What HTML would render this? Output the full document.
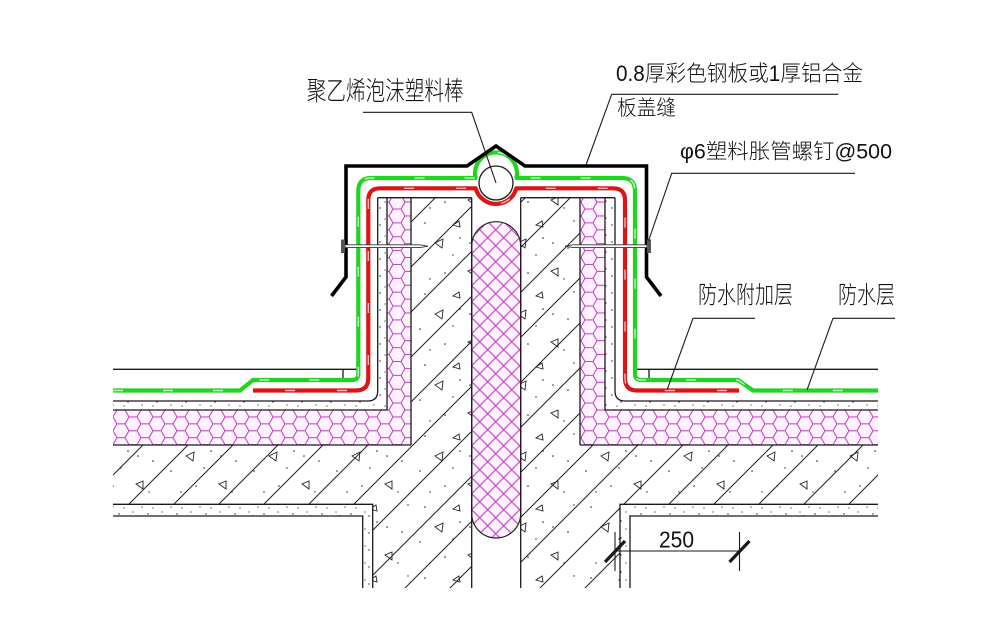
<!DOCTYPE html>
<html><head><meta charset="utf-8"><style>
html,body{margin:0;padding:0;background:#fff;}
svg{display:block;}
text{font-family:"Liberation Sans","Noto Sans CJK SC",sans-serif;fill:#111;font-weight:300;}
</style></head><body>
<svg width="981" height="628" viewBox="0 0 981 628" xmlns="http://www.w3.org/2000/svg">
<defs>
<pattern id="hatch" patternUnits="userSpaceOnUse" width="45" height="45" x="3" y="0">
<path d="M0,45 L45,0 M-5,5 L5,-5 M40,50 L50,40" stroke="#222" stroke-width="1" fill="none"/>
</pattern>
<pattern id="agg" patternUnits="userSpaceOnUse" width="83" height="71">
<path d="M20,30 l8,-4 l-1,9 z M60,55 l-7,3 l7,5 z M44,8 l-6,4 l7,2 z" fill="none" stroke="#222" stroke-width="0.9"/>
<g fill="#222"><circle cx="10" cy="10" r="0.8"/><circle cx="45" cy="25" r="0.8"/><circle cx="70" cy="35" r="0.8"/><circle cx="30" cy="60" r="0.8"/><circle cx="5" cy="45" r="0.8"/><circle cx="55" cy="30" r="0.8"/><circle cx="38" cy="42" r="0.7"/><circle cx="76" cy="8" r="0.7"/><circle cx="15" cy="66" r="0.7"/><circle cx="66" cy="66" r="0.7"/></g>
</pattern>
<pattern id="mor" patternUnits="userSpaceOnUse" width="29" height="17">
<g fill="#222"><circle cx="3" cy="4" r="0.7"/><circle cx="12" cy="11" r="0.7"/><circle cx="21" cy="6" r="0.7"/><circle cx="26" cy="14" r="0.6"/><circle cx="8" cy="15" r="0.6"/><circle cx="17" cy="2" r="0.6"/></g>
</pattern>
<pattern id="hex" patternUnits="userSpaceOnUse" width="24" height="13.86" x="113" y="410">
<rect width="24" height="13.86" fill="#fdf2fd"/>
<path d="M0,6.93 L4,0 L12,0 L16,6.93 L12,13.86 L4,13.86 Z M16,6.93 L24,6.93" fill="none" stroke="#c23ac2" stroke-width="1"/>
</pattern>
<pattern id="xh" patternUnits="userSpaceOnUse" width="16" height="16" x="471.7" y="221.7">
<rect width="16" height="16" fill="#fdf3fd"/>
<path d="M0,0 L16,16 M16,0 L0,16" stroke="#b536b5" stroke-width="1" fill="none"/>
</pattern>
</defs>
<rect width="981" height="628" fill="#fff"/>

<!-- concrete -->
<path d="M411,197.7 L471.7,197.7 L471.7,588 L372.7,588 L372.7,504.3 L113,504.3 L113,445 L411,445 Z" fill="url(#hatch)"/>
<path d="M411,197.7 L471.7,197.7 L471.7,588 L372.7,588 L372.7,504.3 L113,504.3 L113,445 L411,445 Z" fill="url(#agg)"/>
<path d="M520.7,197.7 L580,197.7 L580,445 L878,445 L878,504.3 L620,504.3 L620,588 L520.7,588 Z" fill="url(#hatch)"/>
<path d="M520.7,197.7 L580,197.7 L580,445 L878,445 L878,504.3 L620,504.3 L620,588 L520.7,588 Z" fill="url(#agg)"/>

<!-- mortar / plaster -->
<path d="M377.7,197.7 L387,197.7 L387,410 L113,410 L113,401 L367.7,401 Q377.7,401 377.7,391 Z" fill="url(#mor)"/>
<path d="M615,197.7 L605,197.7 L605,410 L878,410 L878,401 L625,401 Q615,401 615,391 Z" fill="url(#mor)"/>
<path d="M113,504.3 L372.7,504.3 L372.7,588 L362.7,588 L362.7,516 L113,516 Z" fill="url(#mor)"/>
<path d="M620,504.3 L878,504.3 L878,516 L630,516 L630,588 L620,588 Z" fill="url(#mor)"/>

<!-- insulation hex -->
<path d="M387,197.7 L411,197.7 L411,445 L113,445 L113,410 L387,410 Z" fill="url(#hex)"/>
<path d="M580,197.7 L605,197.7 L605,410 L878,410 L878,445 L580,445 Z" fill="url(#hex)"/>

<!-- foam rod -->
<rect x="471.7" y="221.7" width="49" height="316.3" rx="24.5" ry="24.5" fill="url(#xh)" stroke="#222" stroke-width="1.2"/>

<!-- outlines -->
<g fill="none" stroke="#1a1a1a" stroke-width="1.3">
<path d="M411,197.7 L411,445 M471.7,197.7 L471.7,588 M520.7,197.7 L520.7,588 M580,197.7 L580,445"/>
<path d="M377.7,197.7 L471.7,197.7 M520.7,197.7 L615,197.7"/>
<path d="M113,410 L387,410 L387,197.7 M878,410 L605,410 L605,197.7"/>
<path d="M113,445 L411,445 M580,445 L878,445"/>
<path d="M377.7,197.7 L377.7,391 Q377.7,401 367.7,401 L113,401"/>
<path d="M615,197.7 L615,391 Q615,401 625,401 L878,401"/>
<path d="M113,504.3 L372.7,504.3 L372.7,588 M113,516 L362.7,516 L362.7,588"/>
<path d="M878,504.3 L620,504.3 L620,588 M878,516 L630,516 L630,588"/>
<path d="M113,369.3 L358.3,369.3 M343,369.3 L343,380 M635,369.3 L878,369.3 M649,369.3 L649,380"/>
</g>

<!-- green waterproof layer -->
<path d="M113,390.5 L240,390.5 L253,380 L352,380 Q358.3,380 358.3,374 L358.3,191 Q358.3,178 371,178 L475.5,178 A21,21 0 1 1 516.5,178 L622,178 Q635,178 635,191 L635,374 Q635,380 641,380 L738,380 L753,390.5 L878,390.5" fill="none" stroke="#1fd51f" stroke-width="4.2" stroke-linejoin="round"/>
<path d="M113,390.5 L240,390.5 L253,380 L352,380 Q358.3,380 358.3,374 L358.3,191 Q358.3,178 371,178 L475.5,178 A21,21 0 1 1 516.5,178 L622,178 Q635,178 635,191 L635,374 Q635,380 641,380 L738,380 L753,390.5 L878,390.5" fill="none" stroke="#b8f5b8" stroke-width="1.4" stroke-dasharray="10 40"/>

<!-- red additional layer -->
<path d="M253,390.5 L356,390.5 Q368.3,390.5 368.3,378 L368.3,200 Q368.3,188.3 380,188.3 L475.7,188.3 A21,21 0 0 0 516.3,188.3 L613,188.3 Q625,188.3 625,200 L625,378 Q625,390.5 637,390.5 L739,390.5" fill="none" stroke="#dc1414" stroke-width="4.2" stroke-linejoin="round"/>
<path d="M253,390.5 L356,390.5 Q368.3,390.5 368.3,378 L368.3,200 Q368.3,188.3 380,188.3 L475.7,188.3 A21,21 0 0 0 516.3,188.3 L613,188.3 Q625,188.3 625,200 L625,378 Q625,390.5 637,390.5 L739,390.5" fill="none" stroke="#f6b8b8" stroke-width="1.4" stroke-dasharray="10 42" stroke-dashoffset="20"/>

<!-- foam rod circle -->
<circle cx="496" cy="183" r="17" fill="#fff" stroke="#1a1a1a" stroke-width="1.3"/>

<!-- cover plate -->
<path d="M331.5,296 L346,277 L346,166 L467,166 L496,146 L525,166 L646.5,166 L646.5,277 L661,296" fill="none" stroke="#000" stroke-width="3.6" stroke-linejoin="miter"/>

<!-- nails -->
<path d="M345,244.8 L420,244.8 L428,246.2 L420,247.6 L345,247.6 Z" fill="#fff" stroke="#333" stroke-width="0.9"/>
<rect x="341" y="239.5" width="4" height="13.5" fill="#555"/>
<path d="M647,244.8 L573,244.8 L565,246.2 L573,247.6 L647,247.6 Z" fill="#fff" stroke="#333" stroke-width="0.9"/>
<rect x="647" y="239.5" width="4" height="13.5" fill="#555"/>

<!-- leaders -->
<g fill="none" stroke="#1a1a1a" stroke-width="1.1">
<path d="M363,112.3 L471.7,112.3 L496,183"/>
<path d="M838.3,94.3 L611.7,94.3 L586,165"/>
<path d="M855,173.3 L671.7,173.3 L648.5,241"/>
<path d="M755,318.3 L693,318.3 L667,390"/>
<path d="M895,318.3 L833,318.3 L807,390"/>
</g>

<!-- labels -->
<text x="306.7" y="100" font-size="26" textLength="157" lengthAdjust="spacingAndGlyphs">聚乙烯泡沫塑料棒</text>
<text x="616" y="81" font-size="22" textLength="247" lengthAdjust="spacingAndGlyphs">0.8厚彩色钢板或1厚铝合金</text>
<text x="617" y="115" font-size="21" textLength="59" lengthAdjust="spacingAndGlyphs">板盖缝</text>
<text x="680" y="158.5" font-size="21" textLength="212" lengthAdjust="spacingAndGlyphs">φ6塑料胀管螺钉@500</text>
<text x="698" y="303" font-size="24" textLength="95" lengthAdjust="spacingAndGlyphs">防水附加层</text>
<text x="838" y="303" font-size="24" textLength="57" lengthAdjust="spacingAndGlyphs">防水层</text>

<!-- dimension -->
<g stroke="#1a1a1a" fill="none">
<path d="M615,551 L740,551 M615,532 L615,571 M739.5,532 L739.5,571" stroke-width="1.1"/>
<path d="M605,562 L625,541 M729.5,562 L749.5,541" stroke-width="3.2"/>
</g>
<text x="659" y="547.3" font-size="23" textLength="35" lengthAdjust="spacingAndGlyphs">250</text>
</svg>
</body></html>
